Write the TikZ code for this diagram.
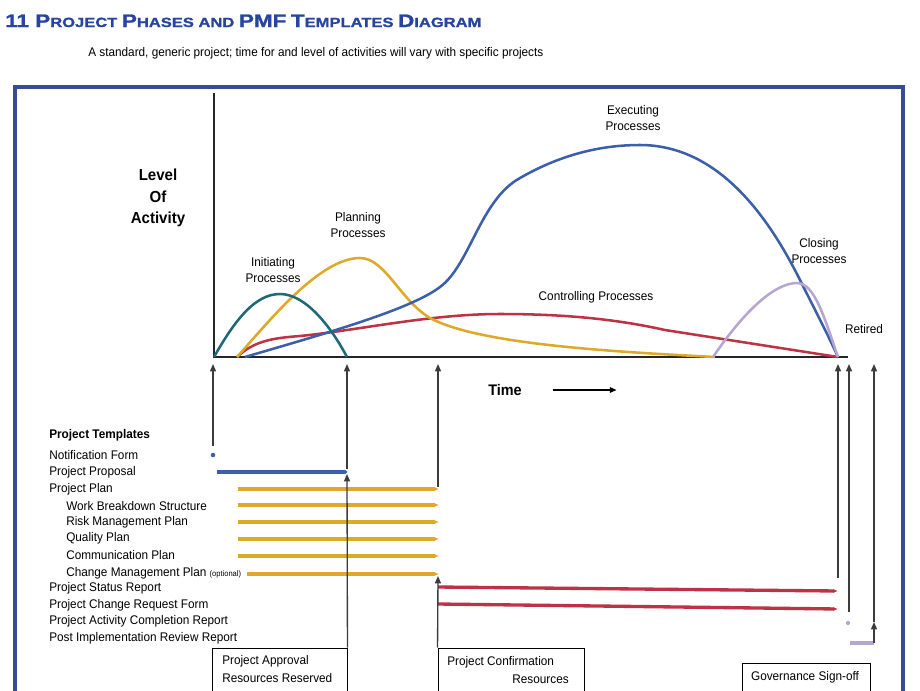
\documentclass[tikz,border=0pt]{standalone}
\usepackage{fontspec}
\setmainfont{Liberation Sans}[FakeStretch=0.94]
\newfontfamily\headfont{Liberation Sans}[FakeStretch=1.24, FakeBold=1.3]
\usepackage{tikz}
\usetikzlibrary{arrows.meta,fit}
\definecolor{frameblue}{RGB}{55,75,150}
\definecolor{titleblue}{RGB}{38,68,160}
\definecolor{initc}{RGB}{30,105,115}
\definecolor{planc}{RGB}{222,168,40}
\definecolor{execc}{RGB}{60,95,170}
\definecolor{ctrlc}{RGB}{190,50,70}
\definecolor{closec}{RGB}{180,165,210}
\definecolor{arrowgray}{RGB}{60,60,60}
\newcommand\tcap[2]{{\fontsize{13.6}{15}\selectfont #1}{\fontsize{10}{12}\selectfont #2}}

\begin{document}
\begin{tikzpicture}[x=0.75pt, y=-0.75pt, font=\fontsize{9.4}{12.5}\selectfont,
  curve/.style={line width=1.9pt, draw=#1},
  tpl/.style={line width=2.5pt, draw=#1, -{Latex[length=3.5pt,width=3pt]}},
  up/.style={draw=arrowgray, line width=1pt, -{Triangle[length=5.5pt,width=4.5pt]}},
  tbox/.style={draw, line width=0.7pt, inner sep=0pt},
  lbl/.style={anchor=west, inner sep=0pt},
  phase/.style={align=center, inner sep=0pt},
  hd/.style={font=\fontsize{12}{16}\selectfont\bfseries, align=center, inner sep=0pt}]
  \useasboundingbox (0,0) rectangle (920,690);
  % heading
  \node[anchor=base west, inner sep=0pt, text=titleblue, font=\headfont\bfseries] (title) at (5,27)
    {\tcap{11 P}{ROJECT} \tcap{P}{HASES} \tcap{}{AND} \tcap{PMF}{} \tcap{T}{EMPLATES} \tcap{D}{IAGRAM}};
  \node[anchor=base west, inner sep=0pt, font=\fontsize{9.4}{11}\selectfont] (sub) at (88,56)
    {A standard, generic project; time for and level of activities will vary with specific projects};
  \draw[frameblue, line width=2.3pt] (15,700) |- (903,87) -- (903,700);
  % chart
  \draw[line width=2.2pt, draw=black!85] (214,93) -- (214,357) -- (848,357);
  \node[hd] (level) at (158,198) {Level\\Of\\Activity};
  \node[hd, font=\fontsize{11.5}{13}\selectfont\bfseries] (time) at (505,390) {Time};
  \draw[line width=1.5pt, -{Triangle[length=5pt,width=4pt]}] ([xshift=23pt]time.east) -- ++(64,0);
  \draw[curve=ctrlc] (237,357) .. controls (255,340) and (275,338) .. (300,336)
    .. controls (360,330) and (430,314) .. (500,314) .. controls (570,314) and (620,320) .. (665,330) -- (838,357);
  \draw[curve=planc] (237,357) .. controls (270,320) and (320,258) .. (360,258)
    .. controls (385,258) and (400,300) .. (430,318) .. controls (480,345) and (620,352) .. (715,357);
  \draw[curve=execc] (245,357) .. controls (320,335) and (410,310) .. (440,287)
    .. controls (470,265) and (480,200) .. (520,178) .. controls (560,155) and (600,145) .. (640,145)
    .. controls (720,145) and (770,220) .. (800,280) .. controls (815,310) and (828,335) .. (838,357);
  \draw[curve=initc] (214,357) .. controls (235,320) and (255,294) .. (280,294)
    .. controls (305,294) and (330,325) .. (347,357);
  \draw[curve=closec] (713,357) .. controls (745,310) and (775,283) .. (797,283)
    .. controls (815,283) and (825,320) .. (838,357);
  \node[phase] (exec) at (633,118) {Executing\\Processes};
  \node[phase] (plan) at (358,225) {Planning\\Processes};
  \node[phase] (init) at (273,270) {Initiating\\Processes};
  \node[phase] (ctrl) at (596,297) {Controlling Processes};
  \node[phase] (close) at (819,251) {Closing\\Processes};
  \node[phase] (ret) at (864,329) {Retired};
  % templates
  \node[lbl, font=\fontsize{9.4}{11}\selectfont\bfseries] (tpls) at (49,435) {Project Templates};
  \node[lbl] (notif) at (49,455) {Notification Form};
  \node[lbl] (prop) at (49,472) {Project Proposal};
  \node[lbl] (pplan) at (49,489) {Project Plan};
  \node[lbl] (wbs) at (66,506) {Work Breakdown Structure};
  \node[lbl] (risk) at (66,522) {Risk Management Plan};
  \node[lbl] (qual) at (66,538) {Quality Plan};
  \node[lbl] (comm) at (66,555) {Communication Plan};
  \node[lbl] (chg) at (66,573) {Change Management Plan {\fontsize{6}{7}\selectfont(optional)}};
  \node[lbl] (stat) at (49,588) {Project Status Report};
  \node[lbl] (creq) at (49,605) {Project Change Request Form};
  \node[lbl] (compl) at (49,621) {Project Activity Completion Report};
  \node[lbl] (pir) at (49,638) {Post Implementation Review Report};
  \fill[execc] (213,455) circle (1.7pt);
  \draw[line width=2.5pt, draw=execc, -{Circle[length=3pt]}] (217,472) -- (347,472);
  \foreach \y in {489,505,522,539,556}
    \draw[tpl=planc] (238,\y) -- (439,\y);
  \draw[tpl=planc] (247,574) -- (439,574);
  \draw[tpl=ctrlc] (438,587) -- (838,591);
  \draw[tpl=ctrlc] (438,604) -- (838,609);
  \fill[closec] (848,623) circle (1.6pt);
  \draw[line width=2.5pt, draw=closec] (850,643) -- (874,643);
  % gates
  \node[tbox, fit={(212,648) (347,700)}] (appr) {};
  \node[tbox, fit={(438,648) (584,700)}] (conf) {};
  \node[tbox, fit={(742,663) (870,700)}] (gov) {};
  \node[lbl] (apprA) at (222,661) {Project Approval};
  \node[lbl] (apprB) at (222,678) {Resources Reserved};
  \node[lbl] (confA) at (447,662) {Project Confirmation};
  \node[anchor=east, inner sep=0pt] (confB) at (569,679) {Resources};
  \node[inner sep=0pt] (govA) at (805,677) {Governance Sign-off};
  \coordinate (t0) at (213,364);
  \coordinate (t1) at (347,364);
  \coordinate (t2) at (438,364);
  \coordinate (t3) at (838,364);
  \coordinate (t4) at (849,364);
  \coordinate (t5) at (874,364);
  \draw[up] (213,446) -- (t0);
  \draw[up] (347,469) -- (t1);
  \draw[up] (appr.north east) -- (347,474);
  \draw[up] (438,487) -- (t2);
  \draw[up] (conf.north west) -- (438,576);
  \draw[up] (838,578) -- (t3);
  \draw[up] (849,612) -- (t4);
  \draw[up] (874,643) -- (874,622);
  \draw[up] (874,622) -- (t5);
\end{tikzpicture}
\end{document}
